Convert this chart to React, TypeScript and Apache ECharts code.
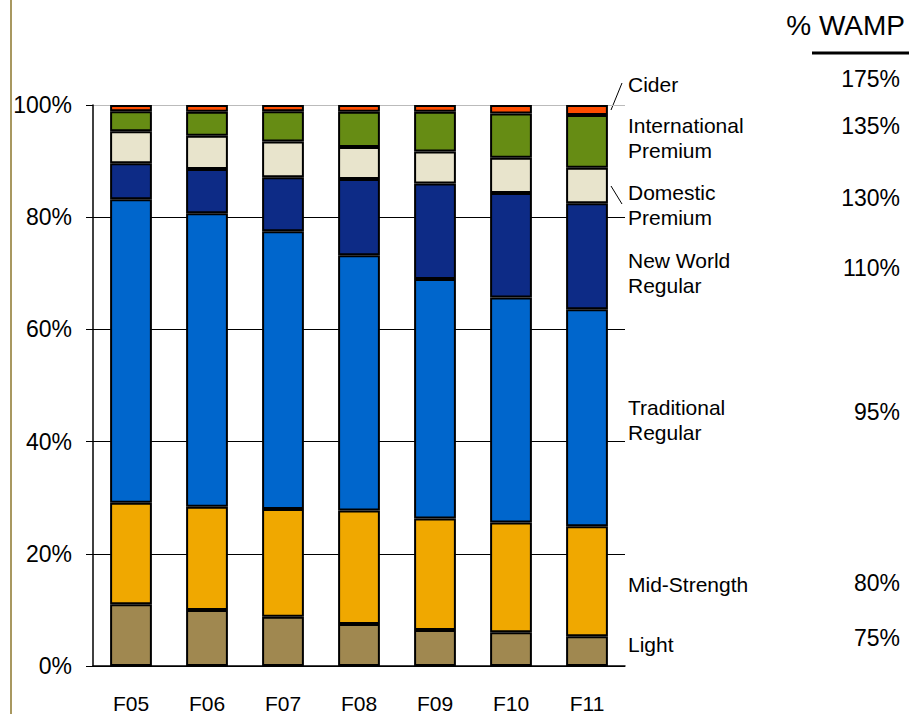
import React, { useEffect, useRef } from "react";
import * as echarts from "echarts";

// Fiscal years on the category axis
const years = ["F05", "F06", "F07", "F08", "F09", "F10", "F11"];

// Share of volume (%) by segment, bottom of the stack to top
const light = [11.0, 10.0, 8.8, 7.5, 6.4, 6.0, 5.3];
const midStrength = [18.1, 18.4, 19.2, 20.2, 19.9, 19.6, 19.6];
const traditionalRegular = [54.1, 52.3, 49.5, 45.5, 42.7, 40.1, 38.7];
const newWorldRegular = [6.4, 7.9, 9.6, 13.6, 17.0, 18.6, 18.9];
const domesticPremium = [5.7, 5.9, 6.4, 5.7, 5.7, 6.3, 6.3];
const internationalPremium = [3.6, 4.3, 5.4, 6.3, 7.1, 7.9, 9.4];
const cider = [1.1, 1.2, 1.1, 1.2, 1.2, 1.5, 1.8];

const yTicks = [0, 20, 40, 60, 80, 100];

// Segment names shown beside the last bar, and their WAMP index
const segmentLabels = [
  "Cider",
  "International\nPremium",
  "Domestic\nPremium",
  "New World\nRegular",
  "Traditional\nRegular",
  "Mid-Strength",
  "Light",
];
const wampValues = ["175%", "135%", "130%", "110%", "95%", "80%", "75%"];

const FONT = "Liberation Sans, Arial, sans-serif";

export default function App() {
  const ref = useRef<HTMLDivElement>(null);

  useEffect(() => {
    if (!ref.current) return;
    const chart = echarts.init(ref.current, null, { renderer: "svg" });

    const stacks = [
      { name: "Light", data: light, color: "#A08850" },
      { name: "Mid-Strength", data: midStrength, color: "#F0A800" },
      { name: "Traditional Regular", data: traditionalRegular, color: "#0066CC" },
      { name: "New World Regular", data: newWorldRegular, color: "#0D2B86" },
      { name: "Domestic Premium", data: domesticPremium, color: "#E8E4CC" },
      { name: "International Premium", data: internationalPremium, color: "#668C14" },
      { name: "Cider", data: cider, color: "#FF4D00" },
    ];

    // Label text positions (centre y) in the right-hand key
    const labelY = [84, 138, 205, 273, 420, 584, 644];
    const wampY = [79, 126, 198, 268, 412, 583, 638];

    const graphics: any[] = [
      // Olive rule down the left edge
      {
        type: "line",
        shape: { x1: 11, y1: 0, x2: 11, y2: 714 },
        style: { stroke: "#A89860", lineWidth: 2 },
        silent: true,
      },
      {
        type: "text",
        style: {
          text: "% WAMP",
          x: 905,
          y: 25,
          align: "right",
          verticalAlign: "middle",
          fontSize: 28,
          fontFamily: FONT,
          fill: "#000",
        },
      },
      {
        type: "line",
        shape: { x1: 812, y1: 53, x2: 909, y2: 53 },
        style: { stroke: "#000", lineWidth: 3 },
      },
      // Leader lines for the thin segments
      {
        type: "line",
        shape: { x1: 611, y1: 110, x2: 622, y2: 83 },
        style: { stroke: "#000", lineWidth: 1 },
      },
      {
        type: "line",
        shape: { x1: 611, y1: 186, x2: 622, y2: 204 },
        style: { stroke: "#000", lineWidth: 1 },
      },
    ];

    segmentLabels.forEach((t, i) => {
      graphics.push({
        type: "text",
        style: {
          text: t,
          x: 628,
          y: labelY[i],
          align: "left",
          verticalAlign: "middle",
          fontSize: 21,
          fontFamily: FONT,
          lineHeight: 25,
          fill: "#000",
        },
      });
      graphics.push({
        type: "text",
        style: {
          text: wampValues[i],
          x: 900,
          y: wampY[i],
          align: "right",
          verticalAlign: "middle",
          fontSize: 23,
          fontFamily: FONT,
          fill: "#000",
        },
      });
    });

    chart.setOption({
      animation: false,
      backgroundColor: "#fff",
      grid: { left: 93, right: 284, top: 105, bottom: 47, containLabel: false },
      xAxis: {
        type: "category",
        data: years,
        axisLine: { show: true, lineStyle: { color: "#000", width: 1.5 } },
        axisTick: { show: false },
        axisLabel: {
          color: "#000",
          fontSize: 21,
          fontFamily: FONT,
          margin: 27,
        },
      },
      yAxis: {
        type: "value",
        min: 0,
        max: 100,
        interval: 20,
        axisLine: { show: true, lineStyle: { color: "#000", width: 1.5 } },
        axisTick: { show: true, inside: false, length: 7, lineStyle: { color: "#000", width: 1 } },
        axisLabel: {
          color: "#000",
          fontSize: 23,
          fontFamily: FONT,
          margin: 21,
          formatter: (v: number) => (yTicks.includes(v) ? `${v}%` : ""),
        },
        splitLine: {
          show: true,
          lineStyle: {
            color: ["#000", "#000", "#000", "#000", "#000", "#BBBBBB"],
            width: 1,
          },
        },
      },
      series: stacks.map((s) => ({
        name: s.name,
        type: "bar",
        stack: "share",
        data: s.data,
        barCategoryGap: "45%",
        itemStyle: { color: s.color, borderColor: "#000", borderWidth: 2 },
      })),
      graphic: graphics,
    });

    return () => chart.dispose();
  }, []);

  return (
    <div
      ref={ref}
      style={{ position: "fixed", left: 0, top: 0, width: 909, height: 714 }}
    />
  );
}
